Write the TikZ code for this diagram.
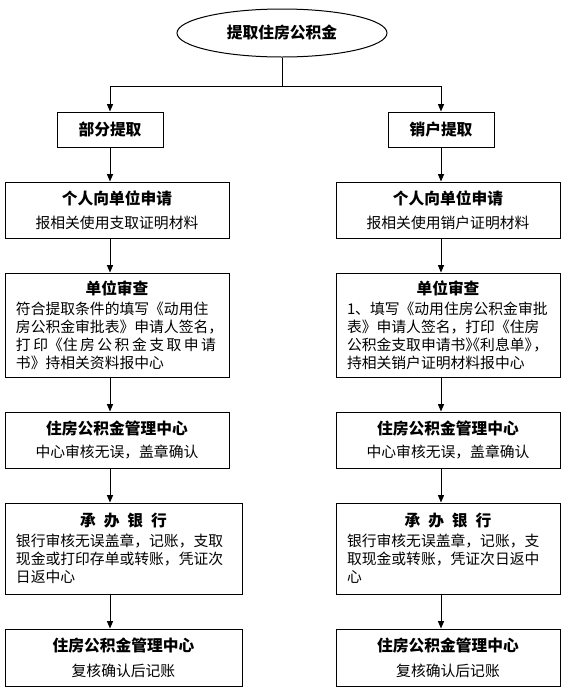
\documentclass[tikz,border=0pt]{standalone}
\usepackage{fontspec}
\setmainfont{Noto Sans CJK SC}
\usepackage{tikz}
\usetikzlibrary{shapes.geometric, arrows.meta, positioning, calc}

\newcommand{\ttlfont}{\fontsize{11.8pt}{14pt}\selectfont\bfseries}
\newcommand{\txtfont}{\fontsize{11.1pt}{13.5pt}\selectfont}
\newcommand{\boxtitle}[1]{\makebox[\linewidth]{\ttlfont #1}}

\begin{document}
\begin{tikzpicture}[x=0.75pt, y=-0.75pt,
  every node/.style={font=\txtfont, text=black},
  start/.style={ellipse, draw, line width=0.75pt, minimum width=157.5pt,
                minimum height=36pt, inner sep=0pt, font=\ttlfont},
  kind/.style={rectangle, draw, line width=0.75pt, minimum width=79.5pt,
               minimum height=26.25pt, inner sep=0pt, font=\ttlfont},
  stage/.style={rectangle, draw, line width=0.75pt, inner xsep=8.25pt,
                inner ysep=0pt, text width=151.5pt, align=center},
  wide/.style={stage, text width=161.25pt},
  arr/.style={-{Triangle[length=5.5pt, width=4.5pt]}, line width=0.75pt},
  link/.style={line width=0.75pt},
]
\useasboundingbox (0,0) rectangle (573,690);

\node[start] (top) at (282,33) {提取住房公积金};
\coordinate (split) at (282,86);

% left column
\node[kind]  (part) at (110,129.5) {部分提取};
\node[stage, minimum height=42pt] (appL) at (117,210)
  {{\ttlfont 个人向单位申请}\\[4.5pt]报相关使用支取证明材料};
\node[stage, align=left, minimum height=78pt] (chkL) at (117,325)
  {\boxtitle{单位审查}\\[1.5pt]
   符合提取条件的填写《动用住\\
   房公积金审批表》申请人签名，\\
   \makebox[150pt]{打\hfill 印《住\hfill 房\hfill 公\hfill 积\hfill 金\hfill 支\hfill 取\hfill 申\hfill 请}\\
   书》持相关资料报中心};
\node[stage, minimum height=42pt] (ctrL) at (117,440)
  {{\ttlfont 住房公积金管理中心}\\[3.75pt]中心审核无误，盖章确认};
\node[wide, align=left, minimum height=68.25pt] (bankL) at (123.5,548.5)
  {\boxtitle{承\hspace{0.5em}办\hspace{0.5em}银\hspace{0.5em}行}\\[1.5pt]
   银行审核无误盖章，记账，支取\\
   现金或打印存单或转账，凭证次\\
   日返中心};
\node[wide, minimum height=42.75pt] (endL) at (123.5,657.5)
  {{\ttlfont 住房公积金管理中心}\\[5.25pt]复核确认后记账};

% right column
\node[kind]  (close) at (441,129.5) {销户提取};
\node[stage, minimum height=42pt] (appR) at (448,210)
  {{\ttlfont 个人向单位申请}\\[4.5pt]报相关使用销户证明材料};
\node[stage, align=left, minimum height=78pt] (chkR) at (448,325)
  {\boxtitle{单位审查}\\[1.5pt]
   1、填写《动用住房公积金审批\\
   表》申请人签名，打印《住房\\
   公积金支取申请书》\kern-1em《利息单》\kern-.4em，\\
   持相关销户证明材料报中心};
\node[stage, minimum height=42pt] (ctrR) at (448,440)
  {{\ttlfont 住房公积金管理中心}\\[3.75pt]中心审核无误，盖章确认};
\node[stage, align=left, minimum height=68.25pt] (bankR) at (448,548.5)
  {\boxtitle{承\hspace{0.5em}办\hspace{0.5em}银\hspace{0.5em}行}\\[1.5pt]
   银行审核无误盖章，记账，支\\
   取现金或转账，凭证次日返中\\
   心};
\node[stage, minimum height=42.75pt] (endR) at (448,657.5)
  {{\ttlfont 住房公积金管理中心}\\[5.25pt]复核确认后记账};

\draw[link] (top) -- (split);
\draw[arr] (split) -| (part);
\draw[arr] (split) -| (close);

\draw[arr] (part) -- (part |- appL.north);
\draw[arr] (appL.south -| part) -- (chkL.north -| part);
\draw[arr] (chkL.south -| part) -- (ctrL.north -| part);
\draw[arr] (ctrL.south -| part) -- (bankL.north -| part);
\draw[arr] (bankL.south -| part) -- (endL.north -| part);

\draw[arr] (close) -- (close |- appR.north);
\draw[arr] (appR.south -| close) -- (chkR.north -| close);
\draw[arr] (chkR.south -| close) -- (ctrR.north -| close);
\draw[arr] (ctrR.south -| close) -- (bankR.north -| close);
\draw[arr] (bankR.south -| close) -- (endR.north -| close);

\end{tikzpicture}
\end{document}
